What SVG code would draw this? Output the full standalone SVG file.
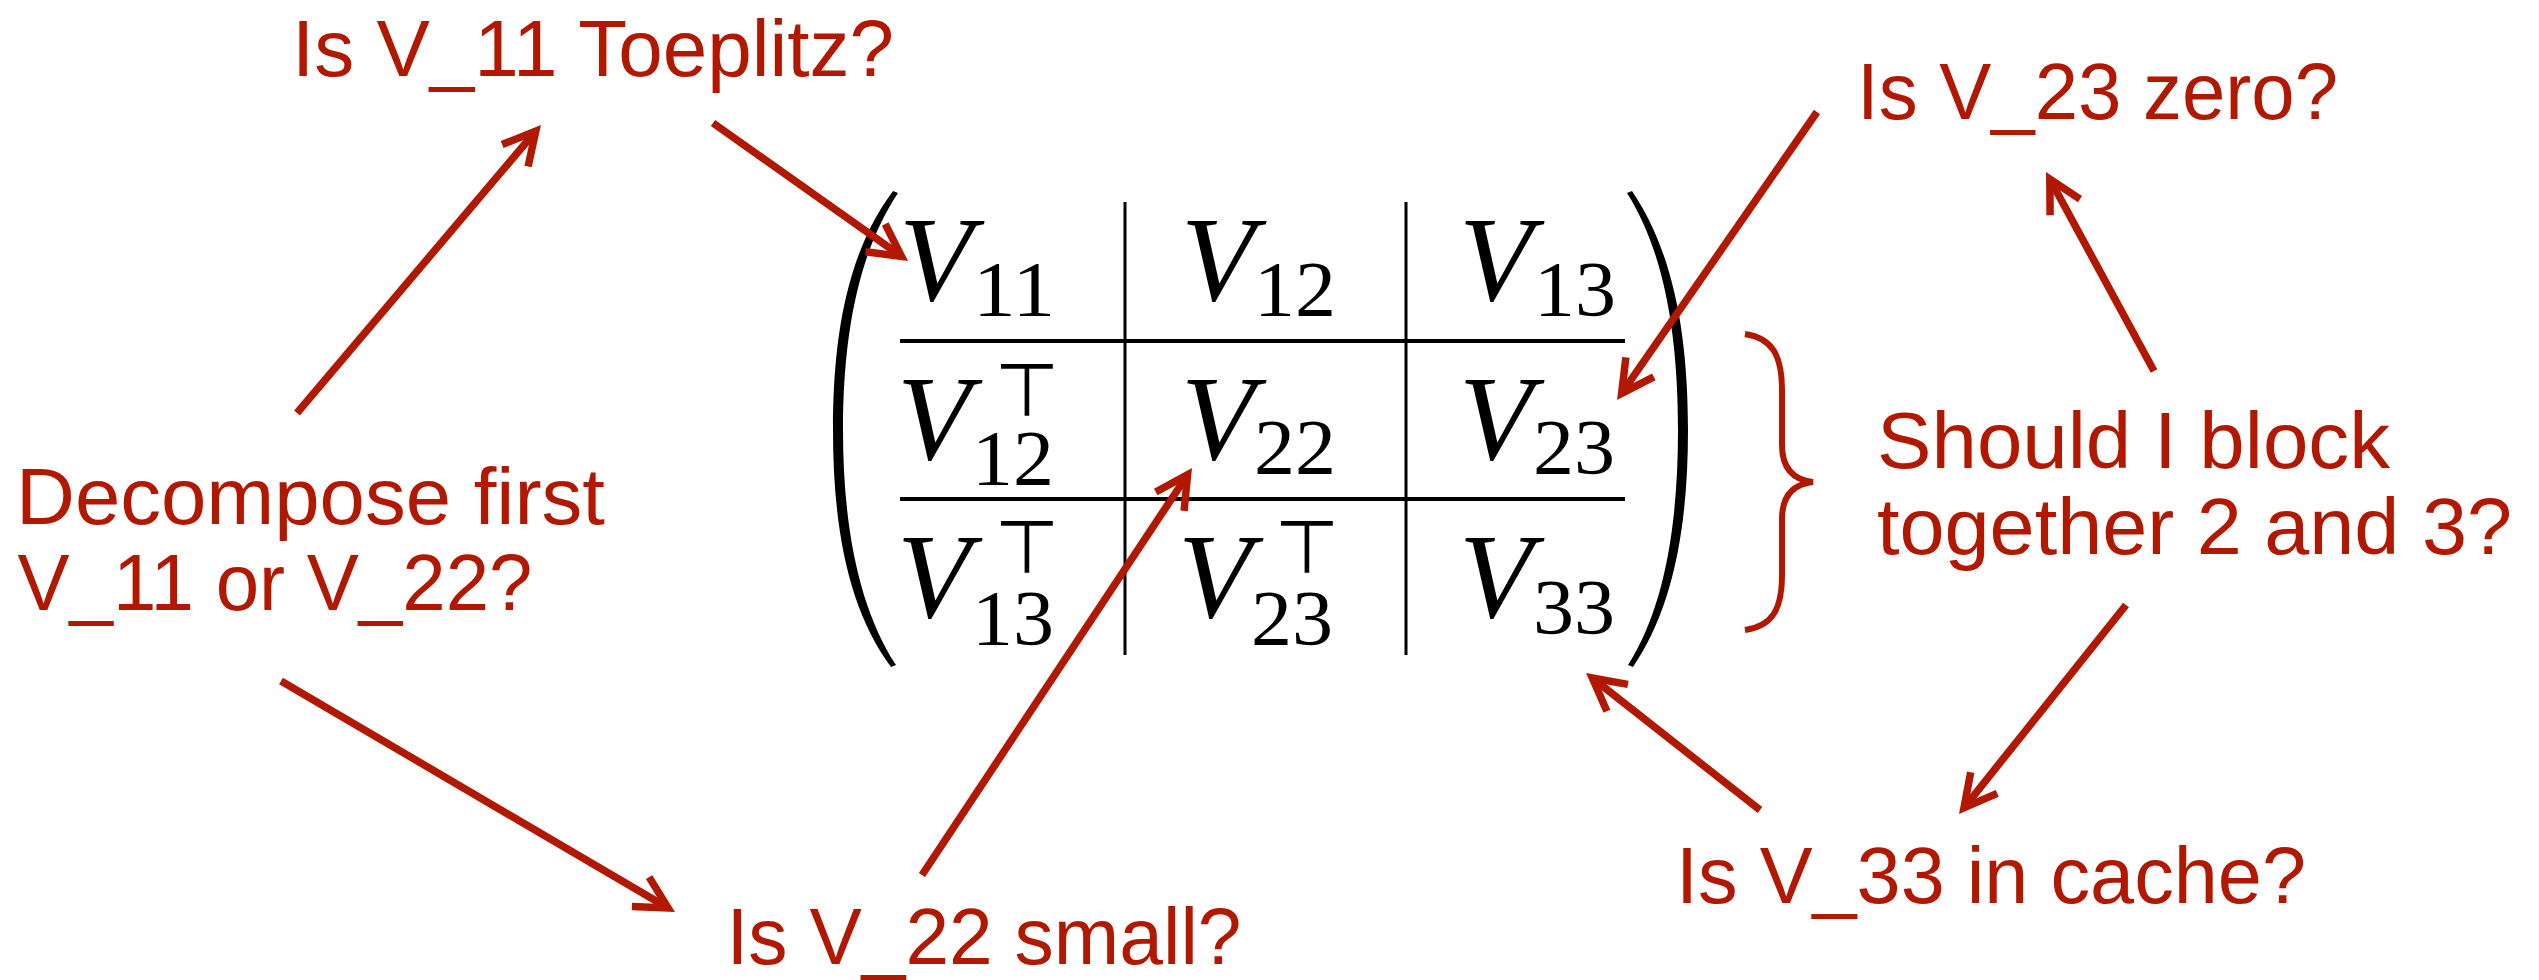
<svg xmlns="http://www.w3.org/2000/svg" width="2539" height="980" viewBox="0 0 2539 980">
<style>
.lbl{font-family:"Liberation Sans",Arial,sans-serif;font-size:80px;fill:#B21800;}
.v{font-family:"Liberation Serif","Times New Roman",serif;font-style:italic;font-size:121px;fill:#000;}
.d{font-family:"Liberation Serif","Times New Roman",serif;font-size:79px;fill:#000;}
.t{font-family:"DejaVu Sans",sans-serif;font-size:74px;fill:#000;text-anchor:middle;}
.grid{stroke:#000;fill:none;}
.conn{stroke:#B21800;stroke-width:7.5;fill:none;marker-end:url(#ah);}
</style>
<defs>
<marker id="ah" markerUnits="userSpaceOnUse" viewBox="-50 -30 60 60" refX="0" refY="0" markerWidth="60" markerHeight="60" orient="auto" overflow="visible">
<path d="M-32,-17 L0,0 L-32,17" fill="none" stroke="#B21800" stroke-width="7.5" stroke-linejoin="miter"/>
</marker>
</defs>
<rect width="2539" height="980" fill="#fff"/>

<g id="matrix">
<path d="M898,193 C860,250 843,330 843,430 C843,530 860,610 896,665 L891,667 C849,610 833,530 833,430 C833,330 849,250 893,191 Z" fill="#000"/>
<path d="M1627,193 C1663,250 1678,330 1678,430 C1678,530 1663,610 1628,665 L1633,667 C1672,610 1688,530 1688,430 C1688,330 1672,250 1632,191 Z" fill="#000"/>
<line class="grid" x1="900" y1="341" x2="1625" y2="341" stroke-width="4"/>
<line class="grid" x1="900" y1="499" x2="1625" y2="499" stroke-width="4"/>
<line class="grid" x1="1125" y1="202" x2="1125" y2="655" stroke-width="3"/>
<line class="grid" x1="1406" y1="202" x2="1406" y2="655" stroke-width="3"/>
<text class="v" x="899" y="300">V</text><text class="d" x="973" y="315" textLength="82" lengthAdjust="spacingAndGlyphs">11</text>
<text class="v" x="1181" y="300">V</text><text class="d" x="1254" y="315" textLength="82" lengthAdjust="spacingAndGlyphs">12</text>
<text class="v" x="1459" y="300">V</text><text class="d" x="1534" y="315" textLength="82" lengthAdjust="spacingAndGlyphs">13</text>
<text class="v" x="897" y="459">V</text><text class="t" x="1027" y="416">⊤</text><text class="d" x="972" y="484" textLength="82" lengthAdjust="spacingAndGlyphs">12</text>
<text class="v" x="1181" y="459">V</text><text class="d" x="1254" y="473" textLength="82" lengthAdjust="spacingAndGlyphs">22</text>
<text class="v" x="1459" y="459">V</text><text class="d" x="1533" y="473" textLength="82" lengthAdjust="spacingAndGlyphs">23</text>
<text class="v" x="897" y="617">V</text><text class="t" x="1027" y="573">⊤</text><text class="d" x="972" y="644" textLength="82" lengthAdjust="spacingAndGlyphs">13</text>
<text class="v" x="1178" y="617">V</text><text class="t" x="1307" y="573">⊤</text><text class="d" x="1251" y="644" textLength="82" lengthAdjust="spacingAndGlyphs">23</text>
<text class="v" x="1459" y="617">V</text><text class="d" x="1533" y="633" textLength="82" lengthAdjust="spacingAndGlyphs">33</text>
</g>

<g id="brace">
<path d="M1745,334 C1772,338 1782,355 1782,390 L1782,445 C1782,470 1795,480 1813,482 C1795,484 1782,494 1782,519 L1782,575 C1782,610 1772,626 1745,630" fill="none" stroke="#B21800" stroke-width="6"/>
</g>

<g id="q-toeplitz"><text class="lbl" x="292" y="76" textLength="602" lengthAdjust="spacingAndGlyphs">Is V_11 Toeplitz?</text></g>
<g id="q-zero"><text class="lbl" x="1857" y="119" textLength="481" lengthAdjust="spacingAndGlyphs">Is V_23 zero?</text></g>
<g id="q-decompose">
<text class="lbl" x="16" y="524" textLength="589" lengthAdjust="spacingAndGlyphs">Decompose first</text>
<text class="lbl" x="17.5" y="610" textLength="515" lengthAdjust="spacingAndGlyphs">V_11 or V_22?</text>
</g>
<g id="q-block">
<text class="lbl" x="1877" y="468" textLength="513" lengthAdjust="spacingAndGlyphs">Should I block</text>
<text class="lbl" x="1877" y="554" textLength="635" lengthAdjust="spacingAndGlyphs">together 2 and 3?</text>
</g>
<g id="q-cache"><text class="lbl" x="1676" y="903" textLength="630" lengthAdjust="spacingAndGlyphs">Is V_33 in cache?</text></g>
<g id="q-small"><text class="lbl" x="726.5" y="964" textLength="515" lengthAdjust="spacingAndGlyphs">Is V_22 small?</text></g>

<g id="connectors">
<line class="conn" x1="297" y1="413" x2="535.8" y2="131.1"/>
<line class="conn" x1="713" y1="123" x2="901.5" y2="256.4"/>
<line class="conn" x1="1817" y1="112" x2="1621.6" y2="393.4"/>
<line class="conn" x1="2154" y1="371" x2="2049.8" y2="179"/>
<line class="conn" x1="281" y1="681" x2="668.1" y2="908"/>
<line class="conn" x1="922" y1="875" x2="1187.6" y2="474.7"/>
<line class="conn" x1="2126" y1="605" x2="1964" y2="807.8"/>
<line class="conn" x1="1760" y1="810" x2="1592.3" y2="678"/>
</g>
</svg>
